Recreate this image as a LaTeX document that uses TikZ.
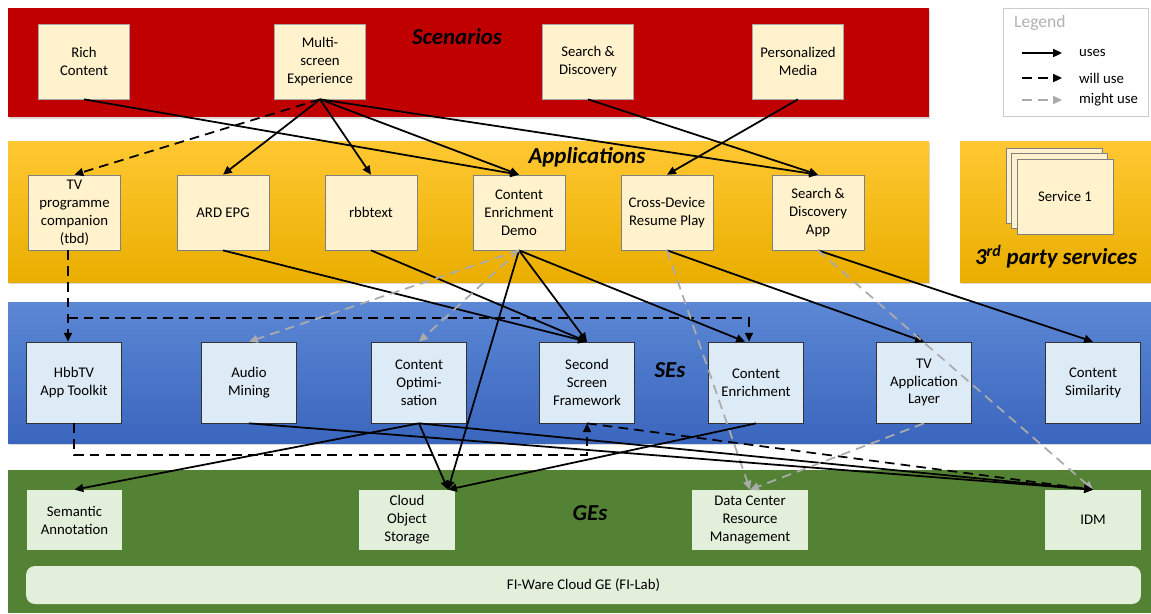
\documentclass[tikz,border=0pt]{standalone}
\usepackage{fontspec}
\setmainfont{Carlito}
\usetikzlibrary{arrows.meta,shadows}

\definecolor{scenred}{HTML}{C00000}
\definecolor{paleyellow}{HTML}{FFF2CC}
\definecolor{apptop}{HTML}{FFC832}
\definecolor{appbottom}{HTML}{EAAE00}
\definecolor{setop}{HTML}{5B87D4}
\definecolor{sebottom}{HTML}{3B66BE}
\definecolor{paleblue}{HTML}{DDEBF7}
\definecolor{gegreen}{HTML}{548235}
\definecolor{palegreen}{HTML}{E2EFDA}
\definecolor{mightgray}{HTML}{ABABAB}

\newcommand{\boxfont}{\fontsize{8.4}{10.2}\selectfont}
\newcommand{\titlefont}{\fontsize{13}{15}\selectfont\bfseries\itshape}

\tikzset{
  band/.style={drop shadow={shadow xshift=0.6pt,shadow yshift=-1.2pt,opacity=0.3}},
  scenbox/.style={draw=black!35,fill=paleyellow,minimum width=1.82cm,minimum height=1.5cm,align=center,font=\boxfont,inner sep=1pt},
  appbox/.style={scenbox,draw=black!50,minimum width=1.84cm},
  sebox/.style={draw=black!80,fill=paleblue,minimum width=1.9cm,minimum height=1.62cm,align=center,font=\boxfont,inner sep=1pt},
  gebox/.style={fill=palegreen,minimum width=1.92cm,minimum height=1.2cm,align=center,font=\boxfont,inner sep=1pt},
  bandtitle/.style={font=\titlefont},
  legtext/.style={anchor=west,font=\boxfont,inner sep=1pt},
  uses/.style={draw=black,line width=1pt,-{Triangle[length=5pt,width=4.5pt]}},
  willuse/.style={uses,dash pattern=on 5.5pt off 3.5pt},
  mightuse/.style={uses,draw=mightgray,dash pattern=on 5.5pt off 3.5pt},
}

\begin{document}
\begin{tikzpicture}[x=0.02cm,y=-0.02cm]
\useasboundingbox (0,0) rectangle (1151,613);

\fill[scenred,band] (8,8) rectangle (929,117);
\path[band,top color=apptop,bottom color=appbottom] (8,141) rectangle (929,282);
\path[band,top color=apptop,bottom color=appbottom] (960,141) rectangle (1151,282);
\path[band,top color=setop,bottom color=sebottom] (8,302) rectangle (1151,443);
\fill[gegreen] (8,470) rectangle (1151,613);

\node[fill=palegreen,rounded corners=5pt,minimum width=22.3cm,minimum height=0.76cm,font=\boxfont] (fiware) at (583.5,585) {FI-Ware Cloud GE (FI-Lab)};

\node[bandtitle] (scentitle) at (457,37) {Scenarios};
\node[bandtitle] (apptitle) at (587,157) {Applications};
\node[bandtitle] (thirdtitle) at (1056,257) {3\textsuperscript{rd} party services};
\node[bandtitle] (setitle) at (670,370) {SEs};
\node[bandtitle] (getitle) at (590,513) {GEs};

\node[scenbox] (rc) at (84,61.5) {Rich\\Content};
\node[scenbox] (mse) at (320,61.5) {Multi-\\screen\\Experience};
\node[scenbox] (sd) at (588,61.5) {Search \&\\Discovery};
\node[scenbox] (pm) at (798,61.5) {Personalized\\Media};

\node[appbox] (tvc) at (74.5,212.5) {TV\\programme\\companion\\(tbd)};
\node[appbox] (epg) at (223,212.5) {ARD EPG};
\node[appbox] (rbb) at (371,212.5) {rbbtext};
\node[appbox] (ced) at (519,212.5) {Content\\Enrichment\\Demo};
\node[appbox] (cdrp) at (667,212.5) {Cross-Device\\Resume Play};
\node[appbox] (sda) at (818,212.5) {Search \&\\Discovery\\App};

\node[appbox,minimum width=1.92cm] (svc3) at (1054,185.5) {};
\node[appbox,minimum width=1.92cm] (svc2) at (1059.5,191) {};
\node[appbox,minimum width=1.92cm] (svc1) at (1065,196.5) {Service 1};

\node[sebox] (hbb) at (74,382.5) {HbbTV\\App Toolkit};
\node[sebox] (am) at (249,382.5) {Audio\\Mining};
\node[sebox] (cop) at (419,382.5) {Content\\Optimi-\\sation};
\node[sebox] (ssf) at (587,382.5) {Second\\Screen\\Framework};
\node[sebox] (ce) at (756,382.5) {Content\\Enrichment};
\node[sebox] (tval) at (924,382.5) {TV\\Application\\Layer};
\node[sebox] (cs) at (1093,382.5) {Content\\Similarity};

\node[gebox] (sa) at (74.5,520) {Semantic\\Annotation};
\node[gebox] (cos) at (407,520) {Cloud\\Object\\Storage};
\node[gebox,minimum width=2.32cm] (dcrm) at (750,520) {Data Center\\Resource\\Management};
\node[gebox] (idm) at (1093,520) {IDM};

\coordinate (cosin) at ([xshift=0.82cm]cos.north);
\coordinate (highbus) at (68,318);
\coordinate (lowbus) at (0,455);

\draw[uses] (rc.south) -- (ced.north);
\draw[willuse] (mse.south) -- (tvc.north);
\draw[uses] (mse.south) -- (epg.north);
\draw[uses] (mse.south) -- (rbb.north);
\draw[uses] (mse.south) -- (ced.north);
\draw[uses] (mse.south) -- (sda.north);
\draw[uses] (sd.south) -- (sda.north);
\draw[uses] (pm.south) -- (cdrp.north);

\draw[willuse] (tvc.south -| highbus) -- (highbus |- hbb.north);
\draw[willuse] (highbus) -| ([xshift=-0.14cm]ce.north);
\draw[uses] (epg.south) -- (ssf.north);
\draw[uses] (rbb.south) -- (ssf.north);
\draw[uses] (ced.south) -- (ssf.north);
\draw[uses] (ced.south) -- ([xshift=-0.22cm]ce.north);
\draw[uses] (ced.south) -- (cosin);
\draw[mightuse] (ced.south) -- (am.north);
\draw[mightuse] (ced.south) -- (cop.north);
\draw[uses] (cdrp.south) -- (tval.north);
\draw[mightuse] (cdrp.south) -- (dcrm.north);
\draw[uses] (sda.south) -- (cs.north);
\draw[mightuse] (sda.south) -- (idm.north);

\draw[willuse] (hbb.south) -- (hbb.south |- lowbus) -| (ssf.south);
\draw[willuse] (ssf.south) -- (idm.north);
\draw[uses] (am.south) -- (idm.north);
\draw[uses] (cop.south) -- (sa.north);
\draw[uses] (cop.south) -- (cosin);
\draw[uses] (cop.south) -- (idm.north);
\draw[uses] (ce.south) -- (cosin);
\draw[mightuse] (tval.south) -- (dcrm.north);

\node[draw=black!20,fill=white,minimum width=2.9cm,minimum height=2.16cm] (legendbox) at (1075.5,62) {};
\node[anchor=west,font=\fontsize{10}{12}\selectfont,text=black!30] (legendtitle) at (1008,23) {Legend};
\node[legtext] (lguses) at (1077,53) {uses};
\node[legtext] (lgwill) at (1077,78) {will use};
\node[legtext] (lgmight) at (1077,100) {might use};
\draw[uses] ([xshift=-1.1cm]lguses.west) -- ([xshift=-0.3cm]lguses.west);
\draw[willuse] ([xshift=-1.1cm]lgwill.west) -- ([xshift=-0.3cm]lgwill.west);
\draw[mightuse] ([xshift=-1.1cm]lgmight.west) -- ([xshift=-0.3cm]lgmight.west);
\end{tikzpicture}
\end{document}
